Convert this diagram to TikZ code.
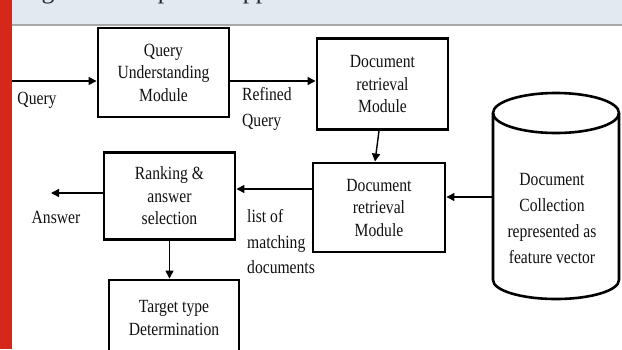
\documentclass[tikz,border=0pt]{standalone}
\usepackage{fontspec}
\setmainfont[FakeStretch=0.84]{Liberation Serif}
\newfontfamily\headfont{Liberation Serif}
\usetikzlibrary{arrows.meta}
\definecolor{bannerbg}{HTML}{E3E9F1}
\definecolor{bannerline}{HTML}{A8A8A8}
\definecolor{redbar}{HTML}{D5281B}
\definecolor{ink}{HTML}{111111}
\begin{document}
\begin{tikzpicture}[x=1pt,y=-1pt,
  box/.style={draw=black,line width=2.9pt,align=center,inner sep=0pt,text=ink,
    font=\fontsize{18.6}{22.5}\selectfont},
  lbl/.style={align=left,inner sep=0pt,text=ink,font=\fontsize{18.6}{25.5}\selectfont},
  arr/.style={line width=1.4pt,-{Triangle[length=8pt,width=8pt]}},
  cyl/.style={line width=2.6pt}]
\useasboundingbox (0,0) rectangle (622,349);
\fill[white] (0,0) rectangle (622,349);
% banner
\fill[bannerbg] (0,0) rectangle (622,24.5);
\draw[bannerline,line width=2pt] (0,25) -- (622,25);
\begin{scope}
  \clip (0,0) rectangle (622,24);
  \node[anchor=base west,inner sep=0pt,text=black!85,
    font=\headfont\fontsize{25.7}{30}\selectfont] (title) at (20,-1.5) {Figure 1: Proposed Approach};
\end{scope}
\fill[redbar] (0,0) rectangle (12,349);
% boxes
\node[box,minimum width=131pt,minimum height=89pt] (qum) at (163.5,72.5) {Query\\Understanding\\Module};
\node[box,minimum width=131pt,minimum height=91pt] (drm1) at (382.5,84) {Document\\retrieval\\Module};
\node[box,minimum width=132pt,minimum height=89pt] (drm2) at (379,207.5) {Document\\retrieval\\Module};
\node[box,minimum width=131pt,minimum height=87pt] (rank) at (169.5,196) {Ranking \&\\answer\\selection};
\node[box,minimum width=130pt,minimum height=76pt] (target) at (174,318) {Target type\\Determination};
% cylinder
\draw[cyl] (493,113) -- (493,280) arc[start angle=180,end angle=360,x radius=63pt,y radius=19pt] -- (619,113);
\draw[cyl] (556,113) ellipse [x radius=63pt,y radius=20pt];
\node[align=center,inner sep=0pt,text=ink,font=\fontsize{18.6}{25.7}\selectfont] (dc) at (552,218.5)
  {Document\\Collection\\represented as\\feature vector};
% labels
\node[lbl] (lq) at (37,100) {Query};
\node[lbl,anchor=west] (lrq) at (242,109) {Refined\\Query};
\node[lbl] (lans) at (56,217) {Answer};
\node[lbl,anchor=west] (llist) at (247,242) {list of\\matching\\documents};
% connectors
\coordinate (qin) at (12,81);
\draw[arr] (qin) -- (qin -| qum.west);
\draw[arr] (qum.east |- qin) -- (drm1.west |- qin);
\draw[arr] ([xshift=-3.5pt]drm1.south) -- ([xshift=-4pt]drm2.north);
\coordinate (cylL) at (493,197);
\draw[arr] (cylL) -- (cylL -| drm2.east);
\coordinate (dl) at (313,189);
\draw[arr] (dl) -- (dl -| rank.east);
\coordinate (ansend) at (51,193);
\draw[arr] (ansend -| rank.west) -- (ansend);
\draw[arr] (rank.south) -- (rank.south |- target.north);
\end{tikzpicture}
\end{document}
